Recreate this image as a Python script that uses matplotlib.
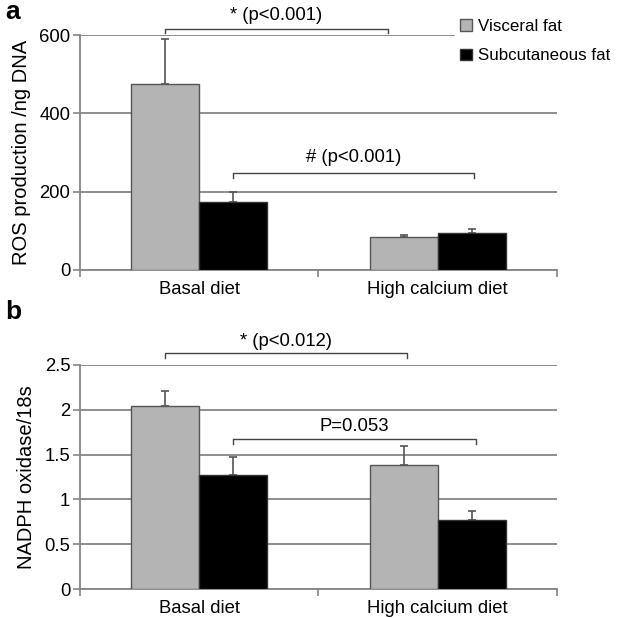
import matplotlib
matplotlib.use("Agg")
import matplotlib.pyplot as plt
import numpy as np

plt.rcParams['font.family'] = ['Liberation Sans', 'DejaVu Sans']

# data
diets = ['Basal diet', 'High calcium diet']
series = ['Visceral fat', 'Subcutaneous fat']
ros_visceral = [475, 84]
ros_visceral_err = [115, 5]
ros_subcut = [174, 94]
ros_subcut_err = [26, 11]
nadph_visceral = [2.04, 1.38]
nadph_visceral_err = [0.17, 0.22]
nadph_subcut = [1.27, 0.77]
nadph_subcut_err = [0.20, 0.10]

bar_colors = ['#b4b4b4', '#000000']
grid_col = '#858585'
fs = 13.3
W, H = 623, 618
fig = plt.figure(figsize=(W / 100, H / 100), dpi=100)

ax_a = fig.add_axes([80 / W, 1 - 270 / H, 477 / W, 235 / H])
ax_b = fig.add_axes([80 / W, 1 - 589 / H, 477 / W, 224 / H])

x = np.arange(len(diets))
bw = 0.285


def draw_panel(ax, vis, vis_err, sub, sub_err, ymax, ystep, ylabel):
    ax.set_axisbelow(True)
    ax.yaxis.grid(True, color=grid_col, lw=1.3)
    b1 = ax.bar(x - bw / 2, vis, bw, color=bar_colors[0], edgecolor='#555555', lw=1, zorder=3,
                label=series[0])
    b2 = ax.bar(x + bw / 2, sub, bw, color=bar_colors[1], edgecolor='#333333', lw=1, zorder=3,
                label=series[1])
    ax.errorbar(x - bw / 2, vis, yerr=[np.zeros(len(vis)), vis_err], fmt='none',
                ecolor='#555555', elinewidth=1.2, capsize=3, capthick=1.2, zorder=2)
    ax.errorbar(x + bw / 2, sub, yerr=[np.zeros(len(sub)), sub_err], fmt='none',
                ecolor='#555555', elinewidth=1.2, capsize=3, capthick=1.2, zorder=2)
    ax.set_xlim(-0.5, 1.5)
    ax.set_ylim(0, ymax)
    ax.set_yticks(np.arange(0, ymax + ystep / 2, ystep))
    ax.set_xticks(x)
    ax.set_xticklabels(diets)
    ax.set_xticks([-0.5, 0.5, 1.5], minor=True)
    ax.tick_params(axis='x', which='major', length=0, labelsize=fs, pad=8)
    ax.tick_params(axis='x', which='minor', length=5, color=grid_col, width=1.2, direction='out')
    ax.tick_params(axis='y', length=5, color=grid_col, width=1.2, labelsize=fs, pad=2)
    for s in ['top', 'right']:
        ax.spines[s].set_visible(False)
    for s in ['left', 'bottom']:
        ax.spines[s].set_color(grid_col)
        ax.spines[s].set_linewidth(1.3)
    ax.set_ylabel(ylabel, fontsize=14.5, labelpad=6)
    return b1, b2


def bracket(ax, x0, x1, y, drop, text, ty):
    ax.plot([x0, x0, x1, x1], [y - drop, y, y, y - drop], color='#444444', lw=1,
            zorder=4, clip_on=False)
    ax.text((x0 + x1) / 2, ty, text, ha='center', va='center', fontsize=fs, clip_on=False)


b1, b2 = draw_panel(ax_a, ros_visceral, ros_visceral_err, ros_subcut, ros_subcut_err,
                    600, 200, 'ROS production /ng DNA')
bracket(ax_a, -bw / 2, 0.79, 615, 10, '* (p<0.001)', 650)
bracket(ax_a, bw / 2, 1.15, 248, 12, '# (p<0.001)', 287)

draw_panel(ax_b, nadph_visceral, nadph_visceral_err, nadph_subcut, nadph_subcut_err,
           2.5, 0.5, 'NADPH oxidase/18s')
ax_b.set_yticklabels(['0', '0.5', '1', '1.5', '2', '2.5'])
bracket(ax_b, -bw / 2, 0.87, 2.63, 0.05, '* (p<0.012)', 2.76)
bracket(ax_b, bw / 2, 1.16, 1.67, 0.05, 'P=0.053', 1.81)

leg = ax_a.legend(handles=[b1, b2], loc='upper left', bbox_to_anchor=(455 / W, 1 - 14 / H),
                  bbox_transform=fig.transFigure, frameon=True, fancybox=False,
                  edgecolor='white', facecolor='white', framealpha=1, fontsize=12.2,
                  handlelength=0.7, handleheight=0.7, handletextpad=0.35,
                  borderpad=0.3, labelspacing=0.85, borderaxespad=0)
leg.set_zorder(5)

fig.text(5 / W, 1 - 12 / H, 'a', fontsize=19, fontweight='bold', ha='left', va='center')
fig.text(5 / W, 1 - 312 / H, 'b', fontsize=19, fontweight='bold', ha='left', va='center')

fig.savefig('out.png', dpi=100)
